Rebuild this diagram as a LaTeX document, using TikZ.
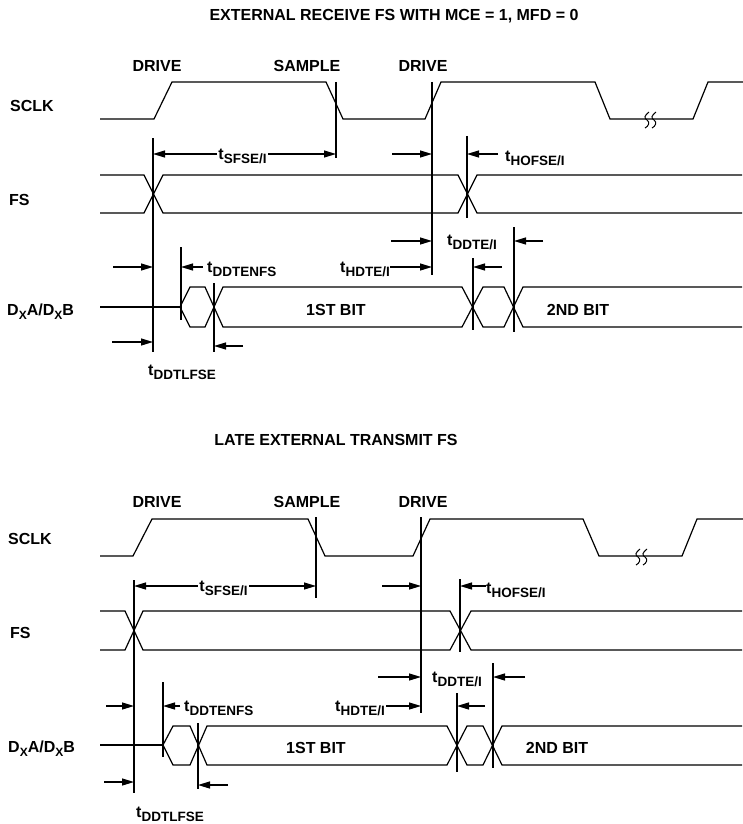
\documentclass[tikz,border=0pt]{standalone}
\usepackage{fontspec}
\setmainfont{Liberation Sans}
\usetikzlibrary{arrows.meta}
\newcommand{\tlab}[1]{t\raisebox{-4pt}{\fontsize{13.5}{14}\selectfont #1}}
\newcommand{\dxs}{D\raisebox{-4pt}{\fontsize{12}{13}\selectfont X}}
\begin{document}
\begin{tikzpicture}[x=1pt,y=-1pt,
  every node/.style={font=\fontsize{16}{19}\selectfont\bfseries, inner sep=0pt},
  wave/.style={line width=1.2pt, line join=miter},
  vline/.style={line width=1.2pt},
  dim/.style={line width=1.2pt, -{Triangle[length=12pt,width=7pt]}},
  ddim/.style={line width=1.2pt, {Triangle[length=12pt,width=7pt]}-{Triangle[length=12pt,width=7pt]}},
  lbl/.style={fill=white, inner xsep=1.5pt, inner ysep=1pt},
  brk/.style={line width=1pt}]
\useasboundingbox (0,0) rectangle (743,824);

% ================= TOP DIAGRAM =================
\node[anchor=base] (ttl1) at (394,21) {EXTERNAL RECEIVE FS WITH MCE = 1, MFD = 0};
\node[anchor=base] (drvA1) at (157,72) {DRIVE};
\node[anchor=base] (smp1) at (307,72) {SAMPLE};
\node[anchor=base] (drvB1) at (423,72) {DRIVE};
\node[anchor=base west] (sclk1) at (10,112) {SCLK};
\node[anchor=base west] (fs1) at (9,205) {FS};
\node[anchor=base west] (dx1) at (7,315) {\dxs A/\dxs B};
\node[anchor=base] (bitA1) at (336,315) {1ST BIT};
\node[anchor=base] (bitB1) at (578,315) {2ND BIT};

% SCLK
\draw[wave] (100,119) -- (154,119) -- (172,82) -- (326,82) -- (343,119) -- (425,119)
  -- (441,82) -- (595,82) -- (610,119) -- (693,119) -- (708,82) -- (743,82);
\draw[brk] (649,112) .. controls (644,116) and (644,118) .. (647,120) .. controls (650,122) and (649,126) .. (645,128);
\draw[brk] (656,112) .. controls (651,116) and (651,118) .. (654,120) .. controls (657,122) and (656,126) .. (652,128);
% FS
\draw[wave] (100,175) -- (144,175) -- (163,213) -- (458,213) -- (477,175) -- (742,175);
\draw[wave] (100,213) -- (144,213) -- (163,175) -- (458,175) -- (477,213) -- (742,213);
% DX
\draw[wave] (100,307) -- (180,307);
\draw[wave] (180,307) -- (190,287) -- (205,287) -- (223,327) -- (462,327) -- (483,287) -- (504,287) -- (523,327) -- (742,327);
\draw[wave] (180,307) -- (190,327) -- (205,327) -- (223,287) -- (462,287) -- (483,327) -- (504,327) -- (523,287) -- (742,287);

% vertical reference lines
\draw[vline] (153,138) -- (153,352);
\draw[vline] (336,82) -- (336,158);
\draw[vline] (432,82) -- (432,275);
\draw[vline] (467,136) -- (467,218);
\draw[vline] (181,247) -- (181,320);
\draw[vline] (214,283) -- (214,352);
\draw[vline] (473,258) -- (473,330);
\draw[vline] (514,227) -- (514,332);

% timing arrows
\draw[ddim] (153,154) -- (336,154);
\node[lbl, anchor=base] (tsf1) at (242.5,159) {\tlab{SFSE/I}};
\draw[dim] (392,154) -- (432,154);
\draw[dim] (498,154) -- (467,154);
\node[anchor=base west] (tho1) at (505,161) {\tlab{HOFSE/I}};
\draw[dim] (113,267) -- (153,267);
\draw[dim] (203,267) -- (181,267);
\node[anchor=base west] (tde1) at (207,272) {\tlab{DDTENFS}};
\node[anchor=base east] (thd1) at (390,272) {\tlab{HDTE/I}};
\draw[dim] (390,267) -- (432,267);
\draw[dim] (502,267) -- (473,267);
\draw[dim] (391,241) -- (432,241);
\node[anchor=base west] (tdd1) at (447,245) {\tlab{DDTE/I}};
\draw[dim] (543,241) -- (514,241);
\draw[dim] (112,342) -- (153,342);
\draw[dim] (243,346) -- (214,346);
\node[anchor=base west] (tdl1) at (148,375) {\tlab{DDTLFSE}};

% ================= BOTTOM DIAGRAM =================
\node[anchor=base] (ttl2) at (336,445) {LATE EXTERNAL TRANSMIT FS};
\node[anchor=base] (drvA2) at (157,507) {DRIVE};
\node[anchor=base] (smp2) at (307,507) {SAMPLE};
\node[anchor=base] (drvB2) at (423,507) {DRIVE};
\node[anchor=base west] (sclk2) at (8,544) {SCLK};
\node[anchor=base west] (fs2) at (10,638) {FS};
\node[anchor=base west] (dx2) at (8,752) {\dxs A/\dxs B};
\node[anchor=base] (bitA2) at (316,753) {1ST BIT};
\node[anchor=base] (bitB2) at (557,753) {2ND BIT};

% SCLK
\draw[wave] (100,556) -- (133,556) -- (152,519) -- (308,519) -- (325,556) -- (413,556)
  -- (430,519) -- (583,519) -- (599,556) -- (682,556) -- (697,519) -- (743,519);
\draw[brk] (640,549) .. controls (635,553) and (635,555) .. (638,557) .. controls (641,559) and (640,563) .. (636,565);
\draw[brk] (647,549) .. controls (642,553) and (642,555) .. (645,557) .. controls (648,559) and (647,563) .. (643,565);
% FS
\draw[wave] (100,611) -- (125,611) -- (143,650) -- (450,650) -- (471,611) -- (742,611);
\draw[wave] (100,650) -- (125,650) -- (143,611) -- (450,611) -- (471,650) -- (742,650);
% DX
\draw[wave] (100,745) -- (163,745);
\draw[wave] (163,745) -- (173,726) -- (190,726) -- (207,765) -- (447,765) -- (467,726) -- (483,726) -- (502,765) -- (742,765);
\draw[wave] (163,745) -- (173,765) -- (190,765) -- (207,726) -- (447,726) -- (467,765) -- (483,765) -- (502,726) -- (742,726);

% vertical reference lines
\draw[vline] (134,580) -- (134,793);
\draw[vline] (316,517) -- (316,598);
\draw[vline] (421,517) -- (421,713);
\draw[vline] (460,579) -- (460,652);
\draw[vline] (163,682) -- (163,757);
\draw[vline] (198,723) -- (198,789);
\draw[vline] (457,693) -- (457,772);
\draw[vline] (493,663) -- (493,768);

% timing arrows
\draw[ddim] (134,586) -- (316,586);
\node[lbl, anchor=base] (tsf2) at (223.5,591) {\tlab{SFSE/I}};
\draw[dim] (382,586) -- (421,586);
\draw[dim] (486,586) -- (460,586);
\node[anchor=base west] (tho2) at (486,593) {\tlab{HOFSE/I}};
\draw[dim] (106,706) -- (134,706);
\draw[dim] (180,706) -- (163,706);
\node[anchor=base west] (tde2) at (184,711) {\tlab{DDTENFS}};
\node[anchor=base east] (thd2) at (385,711) {\tlab{HDTE/I}};
\draw[dim] (386,706) -- (421,706);
\draw[dim] (485,706) -- (457,706);
\draw[dim] (378,677) -- (421,677);
\node[anchor=base west] (tdd2) at (432,682) {\tlab{DDTE/I}};
\draw[dim] (525,677) -- (493,677);
\draw[dim] (104,782) -- (134,782);
\draw[dim] (228,785) -- (198,785);
\node[anchor=base west] (tdl2) at (136,817) {\tlab{DDTLFSE}};
\end{tikzpicture}
\end{document}
